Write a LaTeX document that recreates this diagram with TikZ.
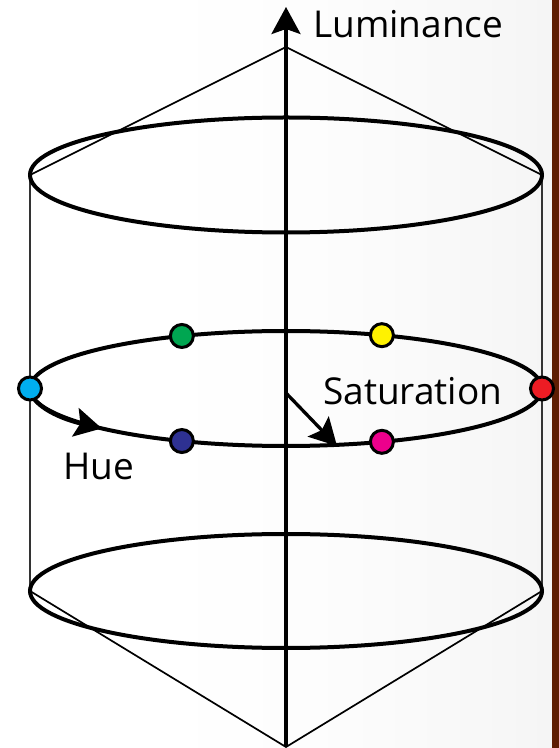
\documentclass[tikz,border=0pt]{standalone}
\usepackage{fontspec}
\setmainfont{Open Sans}
\usetikzlibrary{arrows.meta}
\definecolor{huecyan}{HTML}{00AEEF}
\definecolor{huegreen}{HTML}{00A651}
\definecolor{hueyellow}{HTML}{FFF200}
\definecolor{huered}{HTML}{ED1C24}
\definecolor{huemagenta}{HTML}{EC008C}
\definecolor{hueblue}{HTML}{2E3192}
\definecolor{edgebrown}{HTML}{5E1D02}
\pgfdeclarehorizontalshading{sheen}{100bp}{color(0bp)=(white); color(40bp)=(white);
  color(55bp)=(black!1); color(70bp)=(black!3); color(85bp)=(black!6); color(100bp)=(black!9)}
\tikzset{
  ring/.style={line width=4pt},
  coneline/.style={line width=1.7pt},
  wall/.style={line width=1.4pt,black!80},
  pointer/.style={line width=3.3pt,-{Stealth[length=27pt,width=29pt,inset=5pt]}},
  huedot/.style={circle,draw=black,line width=3pt,minimum size=23pt,inner sep=0pt},
  caption/.style={font=\fontsize{37}{44}\selectfont,anchor=base west,inner sep=0pt}
}

\begin{document}
\begin{tikzpicture}[x=1pt,y=1pt]
    \useasboundingbox (0,0) rectangle (559,748);
    \shade[shading=sheen] (0,0) rectangle (552,748);
    \fill[edgebrown] (552,0) rectangle (559,748);
    \coordinate (apextop) at (286,701);
    \coordinate (apexbot) at (286,1);
    \coordinate (topC) at (286,573);
    \coordinate (midC) at (286,359.5);
    \coordinate (botC) at (286,157);
    \coordinate (topL) at (30,573);
    \coordinate (topR) at (542,573);
    \coordinate (botL) at (30,157);
    \coordinate (botR) at (542,157);
    \coordinate (axistop) at (286,741);
    \coordinate (satfrom) at (286,355);
    \coordinate (satto) at (337,302);
    % cones and cylinder walls
    \draw[coneline] (topL) -- (apextop) -- (topR);
    \draw[coneline] (botL) -- (apexbot) -- (botR);
    \draw[wall] (topL) -- (botL);
    \draw[wall] (topR) -- (botR);
    % rings
    \draw[ring] (topC) ellipse[x radius=256,y radius=57.5];
    \draw[ring] (midC) ellipse[x radius=256,y radius=57.5];
    \draw[ring] (botC) ellipse[x radius=256,y radius=57];
    \draw[pointer] (apexbot) -- (axistop);
    \draw[pointer] (satfrom) -- (satto);
    \draw[pointer,line width=4pt] ([shift={(180:256 and 57.5)}]midC)
      arc[start angle=180,end angle=224,x radius=256,y radius=57.5];
    \foreach \ang/\col in {0/huered,68/hueyellow,114/huegreen,180/huecyan,246/hueblue,292/huemagenta}
      {\node[huedot,fill=\col] (\col) at ([shift={(\ang:256 and 57.5)}]midC) {};}
    \node[caption] (lum) at (313,710) {Luminance};
    \node[caption] (sat) at (323,343) {Saturation};
    \node[caption] (hue) at (63,268) {Hue};
  \end{tikzpicture}
\end{document}
